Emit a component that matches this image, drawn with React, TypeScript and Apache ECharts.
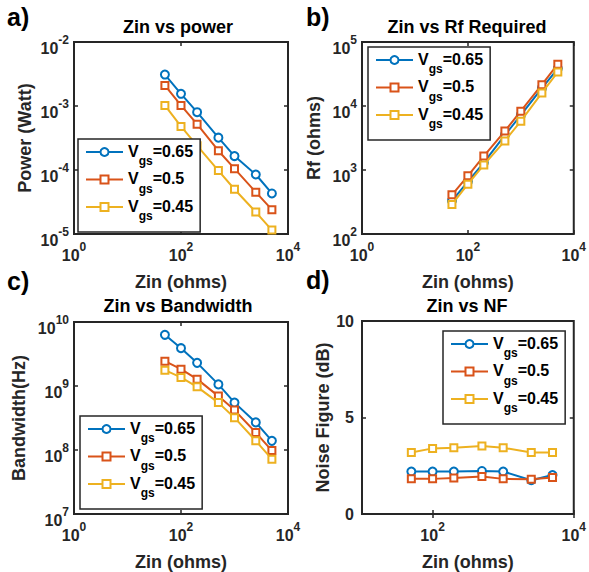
import React, { useEffect, useRef } from 'react';
import * as echarts from 'echarts';

// ---------- data ----------
const zin = [50, 100, 200, 500, 1000, 2500, 5000];
const vgsNames = ['V0.65', 'V0.5', 'V0.45'];

const power065 = [3.1e-3, 1.55e-3, 8.0e-4, 3.2e-4, 1.65e-4, 8.5e-5, 4.3e-5];
const power05 = [2.1e-3, 1.02e-3, 5.2e-4, 2.0e-4, 1.05e-4, 4.5e-5, 2.4e-5];
const power045 = [1.02e-3, 4.8e-4, 2.4e-4, 9.8e-5, 5.0e-5, 2.2e-5, 1.15e-5];

const rf065 = [330, 660, 1300, 3500, 7200, 19000, 38500];
const rf05 = [410, 810, 1650, 4050, 8300, 21500, 45000];
const rf045 = [290, 600, 1200, 2850, 5800, 16000, 34000];

const bw065 = [6.3e9, 3.9e9, 2.3e9, 1.06e9, 5.5e8, 2.7e8, 1.39e8];
const bw05 = [2.44e9, 1.83e9, 1.28e9, 6.95e8, 4.2e8, 1.87e8, 9.8e7];
const bw045 = [1.77e9, 1.36e9, 9.7e8, 5.5e8, 3.2e8, 1.39e8, 7.2e7];

const nf065 = [2.2, 2.2, 2.2, 2.23, 2.2, 1.75, 2.02];
const nf05 = [1.82, 1.82, 1.87, 1.94, 1.82, 1.8, 1.89];
const nf045 = [3.19, 3.4, 3.43, 3.52, 3.43, 3.19, 3.19];

const xTicksFull = [1, 100, 10000];
const xTicksNF = [100, 10000];
const yTicksPower = [1e-5, 1e-4, 1e-3, 1e-2];
const yTicksRf = [1e2, 1e3, 1e4, 1e5];
const yTicksBw = [1e7, 1e8, 1e9, 1e10];

// ---------- styles ----------
const COLORS = ['#0072BD', '#D95319', '#EDB120'];
const SYMBOLS = ['emptyCircle', 'emptyRect', 'emptyRect'];
const SYMSIZE = [8, 7, 7];
const FONT = '"Liberation Sans", Arial, Helvetica, sans-serif';
const TXT = '#262626';
const LABEL_SIZE = 18;

const logFmt = (v: number) => {
  const e = Math.round(Math.log10(v));
  return `{b|10}{s|${e}}`;
};

const tickRich = {
  b: { fontSize: 16, fontWeight: 'bold', color: TXT, fontFamily: FONT, padding: [6, 0, 0, 0], lineHeight: 16, verticalAlign: 'top' },
  s: { fontSize: 12, fontWeight: 'bold', color: TXT, fontFamily: FONT, lineHeight: 12, verticalAlign: 'top' },
};

const legendRich = {
  v: { fontSize: 16, fontWeight: 'bold', color: '#000', fontFamily: FONT, lineHeight: 18, verticalAlign: 'top' },
  g: { fontSize: 12, fontWeight: 'bold', color: '#000', fontFamily: FONT, lineHeight: 12, padding: [12, 0, 0, 0], verticalAlign: 'top' },
};

type Panel = {
  grid: { left: number; top: number; width: number; height: number };
  xMin: number; xMax: number; xTicks: number[];
  yType: 'log' | 'value'; yMin: number; yMax: number; yTicks?: number[];
  yName: string; yGap: number;
  series: number[][];
  legend: { left: number; top: number };
};

const panels: Panel[] = [
  {
    grid: { left: 74, top: 42, width: 214, height: 192 },
    xMin: 1, xMax: 10000, xTicks: xTicksFull,
    yType: 'log', yMin: 1e-5, yMax: 1e-2, yTicks: yTicksPower,
    yName: 'Power (Watt)', yGap: 40,
    series: [power065, power05, power045],
    legend: { left: 78, top: 139 },
  },
  {
    grid: { left: 362, top: 42, width: 216, height: 192 },
    xMin: 1, xMax: 10000, xTicks: xTicksFull,
    yType: 'log', yMin: 1e2, yMax: 1e5, yTicks: yTicksRf,
    yName: 'Rf (ohms)', yGap: 39,
    series: [rf065, rf05, rf045],
    legend: { left: 368, top: 47 },
  },
  {
    grid: { left: 74, top: 322, width: 214, height: 192 },
    xMin: 1, xMax: 10000, xTicks: xTicksFull,
    yType: 'log', yMin: 1e7, yMax: 1e10, yTicks: yTicksBw,
    yName: 'Bandwidth(Hz)', yGap: 46,
    series: [bw065, bw05, bw045],
    legend: { left: 80, top: 416 },
  },
  {
    grid: { left: 362, top: 321, width: 215, height: 193 },
    xMin: 10, xMax: 10000, xTicks: xTicksNF,
    yType: 'value', yMin: 0, yMax: 10,
    yName: 'Noise Figure (dB)', yGap: 30,
    series: [nf065, nf05, nf045],
    legend: { left: 443, top: 331 },
  },
];

const titles = [
  { text: 'Zin vs power', x: 178, y: 27 },
  { text: 'Zin vs Rf Required', x: 467, y: 27 },
  { text: 'Zin vs Bandwidth', x: 178, y: 306 },
  { text: 'Zin vs NF', x: 467, y: 306 },
];
const letters = [
  { text: 'a)', x: 7, y: 17 },
  { text: 'b)', x: 306, y: 17 },
  { text: 'c)', x: 7, y: 281 },
  { text: 'd)', x: 306, y: 280 },
];

function buildOption() {
  const grid: any[] = [];
  const xAxis: any[] = [];
  const yAxis: any[] = [];
  const series: any[] = [];
  const legend: any[] = [];

  panels.forEach((p, i) => {
    grid.push({ ...p.grid, show: true, borderColor: TXT, borderWidth: 2, containLabel: false });
    const tick = { show: true, inside: true, length: 4, lineStyle: { color: TXT, width: 1.5 } };
    xAxis.push({
      type: 'log', logBase: 10, gridIndex: i, min: p.xMin, max: p.xMax, position: 'bottom',
      axisLine: { show: false },
      axisTick: { ...tick, customValues: p.xTicks },
      axisLabel: { customValues: p.xTicks, formatter: logFmt, rich: tickRich, margin: 7, showMinLabel: true, showMaxLabel: true },
      splitLine: { show: false },
      name: 'Zin (ohms)', nameLocation: 'middle', nameGap: 39,
      nameTextStyle: { fontSize: LABEL_SIZE, fontWeight: 'bold', color: TXT, fontFamily: FONT },
    });
    xAxis.push({
      type: 'log', logBase: 10, gridIndex: i, min: p.xMin, max: p.xMax, position: 'top',
      axisLine: { show: false },
      axisTick: { ...tick, customValues: p.xTicks },
      axisLabel: { show: false },
      splitLine: { show: false },
    });
    const yLabel = p.yType === 'log'
      ? { customValues: p.yTicks, formatter: logFmt, rich: tickRich, margin: 5, showMinLabel: true, showMaxLabel: true }
      : { fontSize: 16, fontWeight: 'bold', color: TXT, fontFamily: FONT, margin: 8 };
    const yBase: any = p.yType === 'log'
      ? { type: 'log', logBase: 10, min: p.yMin, max: p.yMax }
      : { type: 'value', min: p.yMin, max: p.yMax, interval: 5 };
    yAxis.push({
      ...yBase, gridIndex: i, position: 'left',
      axisLine: { show: false },
      axisTick: p.yType === 'log' ? { ...tick, customValues: p.yTicks } : tick,
      axisLabel: yLabel,
      splitLine: { show: false },
      name: p.yName, nameLocation: 'middle', nameGap: p.yGap,
      nameTextStyle: { fontSize: LABEL_SIZE, fontWeight: 'bold', color: TXT, fontFamily: FONT },
    });
    yAxis.push({
      ...yBase, gridIndex: i, position: 'right',
      axisLine: { show: false },
      axisTick: p.yType === 'log' ? { ...tick, customValues: p.yTicks } : tick,
      axisLabel: { show: false },
      splitLine: { show: false },
    });

    p.series.forEach((vals, k) => {
      series.push({
        type: 'line',
        name: vgsNames[k],
        xAxisIndex: i * 2,
        yAxisIndex: i * 2,
        data: zin.map((z, j) => [z, vals[j]]),
        symbol: SYMBOLS[k],
        symbolSize: SYMSIZE[k],
        lineStyle: { color: COLORS[k], width: 2 },
        itemStyle: { color: COLORS[k], borderWidth: 2 },
        z: 2 + k * 0.1,
      });
    });

    legend.push({
      show: true,
      left: p.legend.left,
      top: p.legend.top,
      orient: 'vertical',
      data: vgsNames,
      selectedMode: false,
      itemWidth: 37,
      itemHeight: 10,
      itemGap: 3.5,
      padding: [4, 7, 10, 7],
      borderColor: TXT,
      borderWidth: 1.5,
      backgroundColor: '#fff',
      borderRadius: 0,
      formatter: (name: string) => `{v|V}{g|gs}{v|=${name.slice(1)}}`,
      textStyle: { rich: legendRich },
    });
  });

  const graphic: any[] = [];
  titles.forEach((t) => {
    graphic.push({
      type: 'text', x: t.x, y: t.y, silent: true,
      style: { text: t.text, align: 'center', verticalAlign: 'middle', fontSize: LABEL_SIZE, fontWeight: 'bold', fontFamily: FONT, fill: '#000' },
    });
  });
  letters.forEach((t) => {
    graphic.push({
      type: 'text', x: t.x, y: t.y, silent: true,
      style: { text: t.text, align: 'left', verticalAlign: 'middle', fontSize: 25, fontWeight: 'bold', fontFamily: FONT, fill: '#000' },
    });
  });

  return {
    animation: false,
    backgroundColor: '#fff',
    grid, xAxis, yAxis, series, legend, graphic,
  };
}

export default function App() {
  const ref = useRef<HTMLDivElement>(null);
  useEffect(() => {
    if (!ref.current) return;
    const chart = echarts.init(ref.current, undefined, { renderer: 'svg' });
    chart.setOption(buildOption() as any);
    return () => chart.dispose();
  }, []);
  return <div ref={ref} style={{ position: 'absolute', left: 0, top: 0, width: 589, height: 572, background: '#fff' }} />;
}
